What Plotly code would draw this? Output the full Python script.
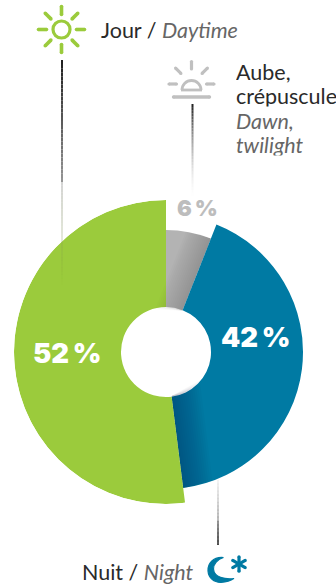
import math
import plotly.graph_objects as go

# Share of the day, clockwise from twelve o'clock
periods = ["Aube, crépuscule", "Nuit", "Jour"]
shares = [6, 42, 52]
colors = ["#B3B3B3", "#007AA3", "#9BCB3C"]
label_colors = ["#BDBDBD", "#FFFFFF", "#FFFFFF"]

W, H = 336, 587
CX, CY = 166, 352
R_MAX, R_HOLE = 152, 45
outer_radii = [122, 137, 152]
label_pos = [(197, 208), (256, 337), (67, 353)]
label_sizes = [22, 27.5, 27.5]


def X(x):
    return x / W


def Y(y):
    return 1 - y / H


# Slice extents in degrees, derived from the shares
total = sum(shares)
starts, widths = [], []
acc = 0
for s in shares:
    starts.append(acc * 360 / total)
    widths.append(s * 360 / total)
    acc += s
centers = [a + w / 2 for a, w in zip(starts, widths)]

fig = go.Figure()
fig.add_trace(go.Barpolar(
    theta=centers,
    width=widths,
    base=[R_HOLE] * 3,
    r=[o - R_HOLE for o in outer_radii],
    marker=dict(color=colors, line=dict(width=0)),
    hoverinfo="skip",
    showlegend=False,
))


def shade(edge_deg, r_out, depth, steps, alpha, side=-1):
    """Soft shadow along a slice edge: nested strips of constant pixel width."""
    for i in range(1, steps + 1):
        d = depth * i / steps
        rs = [R_HOLE - 1 + (r_out - R_HOLE + 1) * k / 24 for k in range(25)]
        rs = [r for r in rs if r > d + 0.5]
        inner = [edge_deg + side * math.degrees(math.asin(d / r)) for r in rs]
        edge = [edge_deg] * len(rs)
        fig.add_trace(go.Scatterpolar(
            r=rs + rs[::-1],
            theta=edge + inner[::-1],
            mode="lines",
            fill="toself",
            fillcolor=f"rgba(0,20,40,{alpha})",
            line=dict(width=0),
            hoverinfo="skip",
            showlegend=False,
        ))


# Darkening where the grey slice meets the blue one, and the blue one meets the green one
shade(starts[1], outer_radii[0], 26, 14, 0.011)
shade(starts[2], outer_radii[1], 30, 14, 0.021)

shapes = []


def seg(x0, y0, x1, y1, color, width):
    shapes.append(dict(type="line", xref="paper", yref="paper",
                       x0=X(x0), y0=Y(y0), x1=X(x1), y1=Y(y1),
                       line=dict(color=color, width=width)))


def dot(x, y, r, color):
    shapes.append(dict(type="circle", xref="paper", yref="paper",
                       x0=X(x - r), x1=X(x + r), y0=Y(y + r), y1=Y(y - r),
                       line=dict(width=0), fillcolor=color))


def mix(c0, c1, t):
    return "rgba({},{},{},{:.3f})".format(
        round(c0[0] + (c1[0] - c0[0]) * t),
        round(c0[1] + (c1[1] - c0[1]) * t),
        round(c0[2] + (c1[2] - c0[2]) * t),
        c0[3] + (c1[3] - c0[3]) * t)


def fade_line(x, y0, y1, c0, c1, width, n=30):
    for i in range(n):
        a = y0 + (y1 - y0) * i / n
        b = y0 + (y1 - y0) * (i + 1) / n
        seg(x, a, x, b, mix(c0, c1, (i + 0.5) / n), width)


def ray(cx, cy, ang, r0, r1, color, width):
    """Round-ended stroke along a direction measured clockwise from north."""
    a = math.radians(ang)
    x0, y0 = cx + r0 * math.sin(a), cy - r0 * math.cos(a)
    x1, y1 = cx + r1 * math.sin(a), cy - r1 * math.cos(a)
    seg(x0, y0, x1, y1, color, width)
    dot(x0, y0, width / 2, color)
    dot(x1, y1, width / 2, color)


def path(points, color, width, fill="rgba(0,0,0,0)"):
    d = ""
    for cmd, pts in points:
        d += cmd + " ".join(f"{X(p[0]):.5f},{Y(p[1]):.5f}" for p in pts) + " "
    shapes.append(dict(type="path", xref="paper", yref="paper", path=d.strip(),
                       line=dict(color=color, width=width), fillcolor=fill))


# Leader lines
INK = (30, 30, 30, 1)
fade_line(62, 60, 182, INK, (150, 150, 150, 1), 2)
fade_line(62, 182, 285, (170, 170, 170, 1), (110, 140, 40, 0.0), 1)
fade_line(192.5, 104, 196, INK, (255, 255, 255, 0.2), 2)
fade_line(218, 545, 521, INK, (120, 120, 120, 1), 2)
fade_line(218, 521, 480, (150, 150, 150, 1), (240, 240, 240, 1), 1.5)

# Sun icon
SUN = colors[2]
sx, sy = 61.5, 29.5
shapes.append(dict(type="circle", xref="paper", yref="paper",
                   x0=X(sx - 8.5), x1=X(sx + 8.5), y0=Y(sy + 8.5), y1=Y(sy - 8.5),
                   line=dict(color=SUN, width=3.2), fillcolor="rgba(0,0,0,0)"))
for ang in range(0, 360, 45):
    ray(sx, sy, ang, 15, 23, SUN, 3.6)

# Sunrise icon
DAWN = "#C0C0C0"
dx, dy = 191.5, 84
for ang in (-90, -45, 0, 45, 90):
    ray(dx, dy, ang, 15, 22.5, DAWN, 3.2)
seg(181, 90, 202, 90, DAWN, 2.8)
ray(dx, 97, 90, -18, 18, DAWN, 3.4)
k = 0.5523 * 9.5
path([("M", [(dx - 9.5, 90)]),
      ("C", [(dx - 9.5, 90 - k), (dx - k, 80.5), (dx, 80.5)]),
      ("C", [(dx + k, 80.5), (dx + 9.5, 90 - k), (dx + 9.5, 90)])], DAWN, 2.8)

# Moon and star icon
MOON = colors[1]
path([("M", [(223.5, 557.5)]),
      ("C", [(213, 556.5), (207.5, 564), (208, 571)]),
      ("C", [(208.5, 578), (214, 582.6), (221, 582.4)]),
      ("C", [(226, 582.2), (230.5, 581), (234, 578.6)]),
      ("C", [(225, 579.5), (214, 577.5), (213.5, 569)]),
      ("C", [(213.3, 564), (217.5, 559.5), (223.5, 557.5)])], MOON, 1.2, MOON)
for ang in (0, 60, 120):
    ray(239, 564, ang, -7.2, 7.2, MOON, 3.2)

fig.update_layout(
    width=W, height=H,
    margin=dict(l=0, r=0, t=0, b=0),
    autosize=False,
    paper_bgcolor="white",
    plot_bgcolor="white",
    showlegend=False,
    shapes=shapes,
    polar=dict(
        domain=dict(x=[X(CX - R_MAX), X(CX + R_MAX)], y=[Y(CY + R_MAX), Y(CY - R_MAX)]),
        bgcolor="rgba(0,0,0,0)",
        angularaxis=dict(visible=False, rotation=90, direction="clockwise"),
        radialaxis=dict(visible=False, range=[0, R_MAX]),
        bargap=0,
    ),
)

DARK = "#2A2A2A"
SOFT = "#666666"
FONT = "Lato"


def note(x, y, text, size, color=DARK, anchor="left", weight=None, family=FONT, box=None):
    font = dict(family=family, size=size, color=color)
    if weight:
        font["weight"] = weight
    fig.add_annotation(xref="paper", yref="paper", x=X(x), y=Y(y), text=text,
                       showarrow=False, xanchor=anchor, yanchor="middle",
                       align="left", valign="middle", borderpad=0, font=font, height=box)


TEXT_SIZE = 21.5
LINE_BOX = 21.5
note(100, 30, f'Jour / <i><span style="color:{SOFT}">Daytime</span></i>', TEXT_SIZE)
note(235, 72, "Aube,", TEXT_SIZE, box=LINE_BOX)
note(235, 96.5, "crépuscule", TEXT_SIZE, box=LINE_BOX)
note(235, 120.5, "<i>Dawn,</i>", TEXT_SIZE, SOFT, box=LINE_BOX)
note(235, 145, "<i>twilight</i>", TEXT_SIZE, SOFT, box=LINE_BOX)
note(81, 572, f'Nuit / <i><span style="color:{SOFT}">Night</span></i>', TEXT_SIZE)

for value, pos, size, col in zip(shares, label_pos, label_sizes, label_colors):
    note(pos[0], pos[1], f"{value}\u2009%", size, col, anchor="center", weight=900, family="Inter")

fig.write_html("out.html")
